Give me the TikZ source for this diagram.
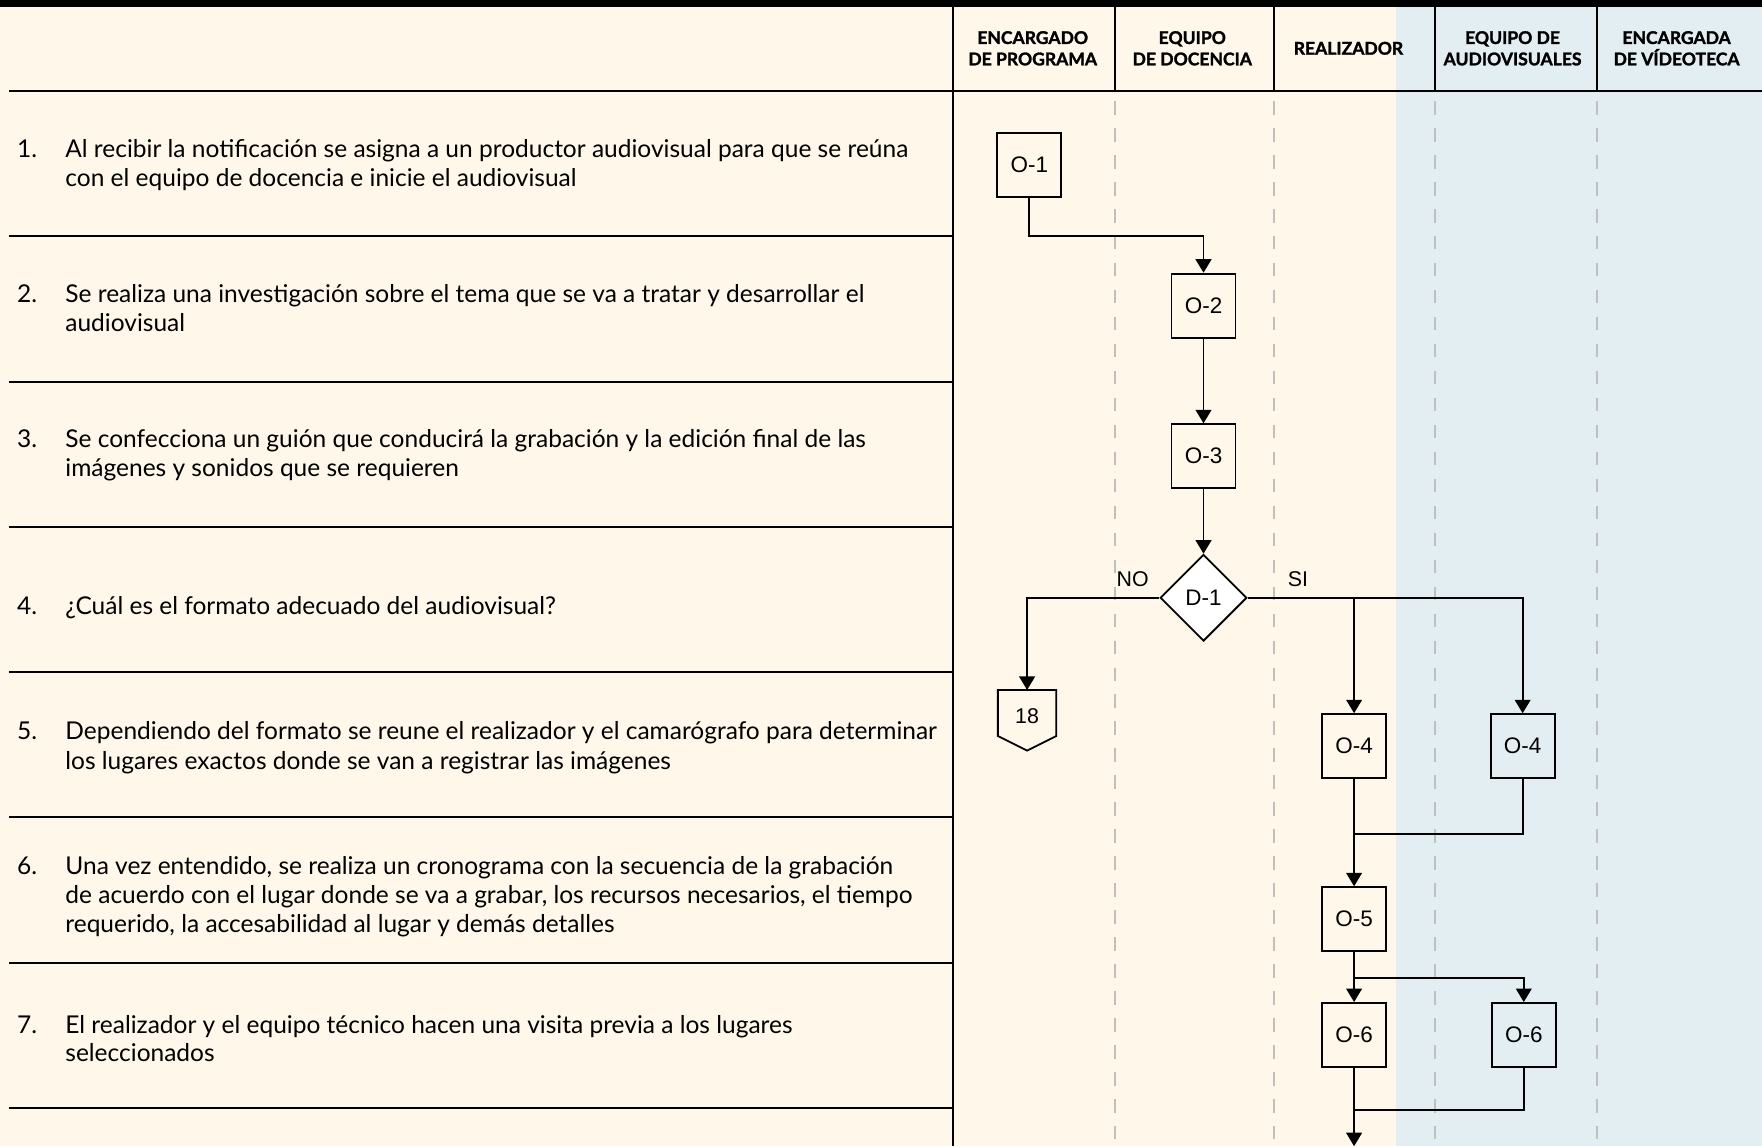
\documentclass[tikz,border=0pt]{standalone}
\usepackage{fontspec}
\setmainfont{Lato}
\newfontfamily\arialf{Liberation Sans}
\newfontfamily\hdrfont[FakeBold=1.6]{Lato Bold}
\usetikzlibrary{shapes.geometric,arrows.meta,calc}
\definecolor{cream}{HTML}{FEF7EA}
\definecolor{paleblue}{HTML}{E3EEF3}
\definecolor{dashgray}{HTML}{BFBFBF}
\begin{document}
\begin{tikzpicture}[x=1pt,y=-1pt,
 rowtext/.style={anchor=base west, inner sep=0, font=\fontsize{21.8}{26}\selectfont},
 hdr/.style={align=center, inner sep=0, font=\hdrfont\fontsize{15.6}{19}\selectfont},
 opbox/.style={draw, line width=1.6pt, minimum width=57pt, minimum height=57pt, inner sep=0, font=\arialf\fontsize{20}{24}\selectfont},
 decbox/.style={draw, diamond, fill=white, line width=1.6pt, minimum width=77pt, minimum height=77pt, inner sep=0, font=\arialf\fontsize{20}{24}\selectfont},
 lbl/.style={inner sep=0, font=\arialf\fontsize{19}{23}\selectfont},
 flow/.style={line width=1.6pt, -{Triangle[width=14pt,length=12pt]}},
 link/.style={line width=1.6pt},
 rowline/.style={line width=2.4pt},
 lane/.style={dashgray, line width=1.5pt, dash pattern=on 12pt off 12pt}]
\useasboundingbox (0,0) rectangle (1568,1020);
% backgrounds
\fill[cream] (0,0) rectangle (1242,1020);
\fill[paleblue] (1242,0) rectangle (1568,1020);
\fill[black] (0,0) rectangle (1568,6);
% lanes
\foreach \x in {992,1134,1277,1421} {
  \draw[lane] (\x,90) -- (\x,1020);
  \draw[line width=1.6pt] (\x,6) -- (\x,81);
}
\draw[line width=2pt] (848,6) -- (848,1020);
\draw[rowline] (8,81) -- (1568,81);
\foreach \y in {210,340,469,598,727,857,986}
  \draw[rowline] (8,\y) -- (848,\y);
% headers
\node[hdr] (h1) at (919,43) {ENCARGADO\\DE PROGRAMA};
\node[hdr] (h2) at (1061,43) {EQUIPO\\DE DOCENCIA};
\node[hdr] (h3) at (1200,43) {REALIZADOR};
\node[hdr] (h4) at (1346,43) {EQUIPO DE\\AUDIOVISUALES};
\node[hdr] (h5) at (1492,43) {ENCARGADA\\DE VÍDEOTECA};
% row texts
\node[rowtext] (n1) at (15,140) {1.};
\node[rowtext] (r1a) at (58,140) {Al recibir la notificación se asigna a un productor audiovisual para que se reúna};
\node[rowtext] (r1b) at (58,166) {con el equipo de docencia e inicie el audiovisual};
\node[rowtext] (n2) at (15,269) {2.};
\node[rowtext] (r2a) at (58,269) {Se realiza una investigación sobre el tema que se va a tratar y desarrollar el};
\node[rowtext] (r2b) at (58,295) {audiovisual};
\node[rowtext] (n3) at (15,398) {3.};
\node[rowtext] (r3a) at (58,398) {Se confecciona un guión que conducirá la grabación y la edición final de las};
\node[rowtext] (r3b) at (58,424) {imágenes y sonidos que se requieren};
\node[rowtext] (n4) at (15,547) {4.};
\node[rowtext] (r4a) at (58,547) {¿Cuál es el formato adecuado del audiovisual?};
\node[rowtext] (n5) at (15,658) {5.};
\node[rowtext] (r5a) at (58,658) {Dependiendo del formato se reune el realizador y el camarógrafo para determinar};
\node[rowtext] (r5b) at (58,685) {los lugares exactos donde se van a registrar las imágenes};
\node[rowtext] (n6) at (15,778) {6.};
\node[rowtext] (r6a) at (58,778) {Una vez entendido, se realiza un cronograma con la secuencia de la grabación};
\node[rowtext] (r6b) at (58,804) {de acuerdo con el lugar donde se va a grabar, los recursos necesarios, el tiempo};
\node[rowtext] (r6c) at (58,830) {requerido, la accesabilidad al lugar y demás detalles};
\node[rowtext] (n7) at (15,920) {7.};
\node[rowtext] (r7a) at (58,920) {El realizador y el equipo técnico hacen una visita previa a los lugares};
\node[rowtext] (r7b) at (58,945) {seleccionados};
% flow nodes
\node[opbox] (o1) at (916,147) {O-1};
\node[opbox] (o2) at (1071,272) {O-2};
\node[opbox] (o3) at (1071,406) {O-3};
\node[decbox] (d1) at (1071,532) {D-1};
\node[opbox] (o4a) at (1205,664) {O-4};
\node[opbox] (o4b) at (1355,664) {O-4};
\node[opbox] (o5) at (1205,818) {O-5};
\node[opbox] (o6a) at (1205,921) {O-6};
\node[opbox] (o6b) at (1356,921) {O-6};
% off-page connector
\coordinate (c18top) at (914,614);
\draw[link] (888,614) -- (940,614) -- (940,655) -- (914,668) -- (888,655) -- cycle;
\node[lbl] (n18) at (914,637) {18};
\node[lbl] (lno) at (1008,515) {NO};
\node[lbl] (lsi) at (1155,515) {SI};
\coordinate (m1) at (1205,742);
\coordinate (m2) at (1205,988);
\coordinate (endb) at (1205,1020);
% connectors
\draw[flow] (o1.south) -- ++(0,34) -| (o2.north);
\draw[flow] (o2.south) -- (o3.north);
\draw[flow] (o3.south) -- (d1.north);
\draw[flow] (d1.west) -| (c18top);
\draw[flow] (d1.east) -| (o4b.north);
\draw[flow] (o4a.north |- d1.east) -- (o4a.north);
\draw[flow] (o4a.south) -- (o5.north);
\draw[link] (o4b.south) |- (m1);
\draw[flow] (o5.south) -- (o6a.north);
\draw[flow] (o5.south) ++(0,23) -| (o6b.north);
\draw[flow] (o6a.south) -- (endb);
\draw[link] (o6b.south) |- (m2);
\end{tikzpicture}
\end{document}
